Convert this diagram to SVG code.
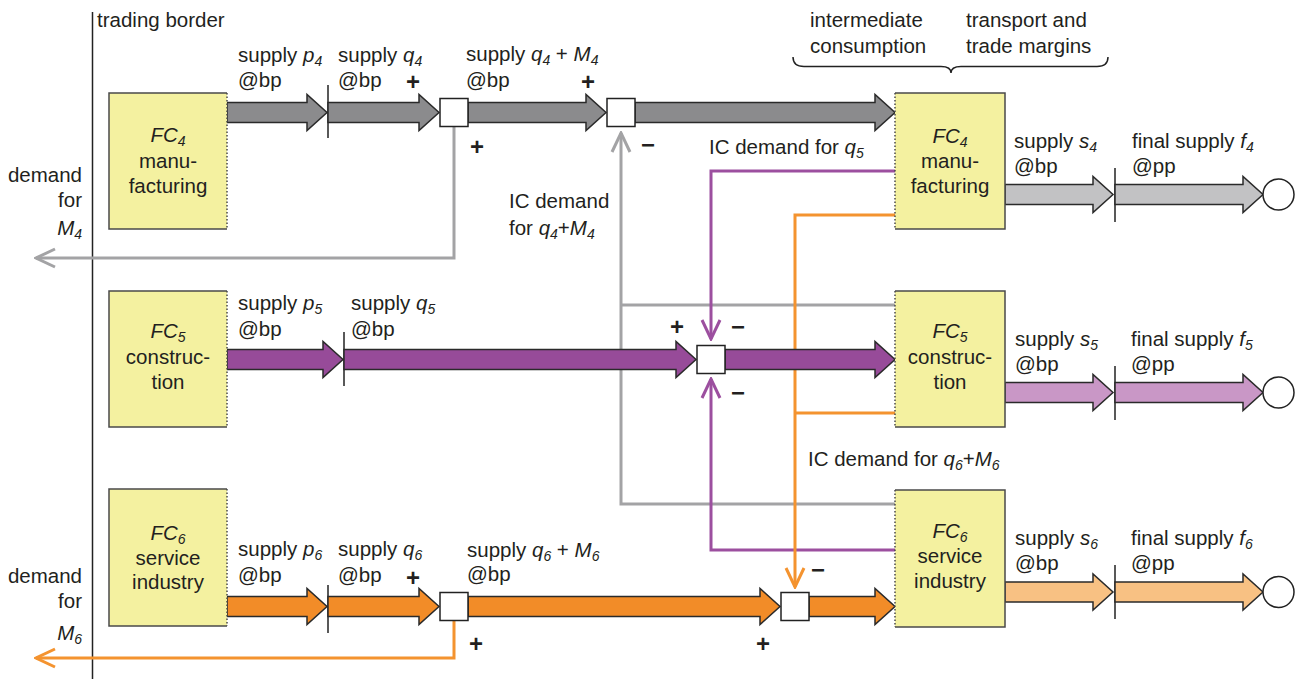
<svg xmlns="http://www.w3.org/2000/svg" width="1300" height="679" viewBox="0 0 1300 679">
<defs>
<style>
text{font-family:"Liberation Sans",Arial,Helvetica,sans-serif;font-size:20.5px;fill:#231f20}
.i{font-style:italic}
.s{font-size:14px;font-style:italic}
.m{text-anchor:middle}
.e{text-anchor:end}
.sign{font-size:24px;font-weight:bold;text-anchor:middle;dominant-baseline:central}
.box{fill:#f4f1a0}
.edge{fill:none;stroke:#4a4a4a;stroke-width:1.5}
.dot{fill:none;stroke:#4a4a4a;stroke-width:1.5;stroke-dasharray:1.5 2}
.ar{stroke:#2a2a2a;stroke-width:1.5;stroke-linejoin:miter}
.g1{fill:#8b8b8d}.g2{fill:#c2c2c4}.p1{fill:#974b99}.p2{fill:#c997c6}.o1{fill:#f28c28}.o2{fill:#f8c183}
.sum{fill:#fff;stroke:#222;stroke-width:1.5}
.tick{stroke:#222;stroke-width:1.5}
.ln{fill:none;stroke-width:3}
.lg{stroke:#a3a3a5}.lp{stroke:#9c4f9f}.lo{stroke:#f4932f}
</style>
<marker id="mg" viewBox="-24 -12 26 24" refX="0" refY="0" markerWidth="26" markerHeight="24" markerUnits="userSpaceOnUse" orient="auto"><path d="M-19,-9 L0,0 L-19,9" fill="none" stroke="#a3a3a5" stroke-width="3"/></marker>
<marker id="mp" viewBox="-24 -12 26 24" refX="0" refY="0" markerWidth="26" markerHeight="24" markerUnits="userSpaceOnUse" orient="auto"><path d="M-19,-9 L0,0 L-19,9" fill="none" stroke="#9c4f9f" stroke-width="3"/></marker>
<marker id="mo" viewBox="-24 -12 26 24" refX="0" refY="0" markerWidth="26" markerHeight="24" markerUnits="userSpaceOnUse" orient="auto"><path d="M-19,-9 L0,0 L-19,9" fill="none" stroke="#f4932f" stroke-width="3"/></marker>
</defs>
<rect width="1300" height="679" fill="#fff"/>

<g id="border">
<line x1="92.5" y1="12" x2="92.5" y2="679" stroke="#222" stroke-width="1.5"/>
<text x="97" y="27">trading border</text>
</g>

<g id="connectors">
<path class="ln lg" d="M454,127 V258 H36" marker-end="url(#mg)"/>
<path class="ln lg" d="M895,504 H621 V133" marker-end="url(#mg)"/>
<path class="ln lg" d="M895,305 H621"/>
<path class="ln lp" d="M895,171 H711 V339" marker-end="url(#mp)"/>
<path class="ln lp" d="M895,550 H711 V379" marker-end="url(#mp)"/>
<path class="ln lo" d="M895,215 H795 V587" marker-end="url(#mo)"/>
<path class="ln lo" d="M895,413 H795"/>
<path class="ln lo" d="M454,620 V658 H36" marker-end="url(#mo)"/>

<polygon class="ar g1" points="227,102.5 307,102.5 307,94.5 327,112.5 307,130.5 307,122.5 227,122.5"/>
<line class="tick" x1="328" y1="85" x2="328" y2="138"/>
<polygon class="ar g1" points="328,102.5 419,102.5 419,94.5 439,112.5 419,130.5 419,122.5 328,122.5"/>
<polygon class="ar g1" points="468,102.5 586,102.5 586,94.5 606,112.5 586,130.5 586,122.5 468,122.5"/>
<polygon class="ar g1" points="635,102.5 875,102.5 875,94.5 895,112.5 875,130.5 875,122.5 635,122.5"/>
<rect class="sum" x="440" y="98.5" width="28" height="28"/>
<rect class="sum" x="607" y="98.5" width="28" height="28"/>

<polygon class="ar p1" points="227,349.5 323,349.5 323,341.5 343,359.5 323,377.5 323,369.5 227,369.5"/>
<line class="tick" x1="344" y1="332" x2="344" y2="386"/>
<polygon class="ar p1" points="344,349.5 676,349.5 676,341.5 696,359.5 676,377.5 676,369.5 344,369.5"/>
<polygon class="ar p1" points="725,349.5 875,349.5 875,341.5 895,359.5 875,377.5 875,369.5 725,369.5"/>
<rect class="sum" x="697" y="345.5" width="28" height="28"/>

<polygon class="ar o1" points="227,596.5 307,596.5 307,588.5 327,606.5 307,624.5 307,616.5 227,616.5"/>
<line class="tick" x1="328" y1="585" x2="328" y2="633"/>
<polygon class="ar o1" points="328,596.5 419,596.5 419,588.5 439,606.5 419,624.5 419,616.5 328,616.5"/>
<polygon class="ar o1" points="468,596.5 760,596.5 760,588.5 780,606.5 760,624.5 760,616.5 468,616.5"/>
<polygon class="ar o1" points="809,596.5 875,596.5 875,588.5 895,606.5 875,624.5 875,616.5 809,616.5"/>
<rect class="sum" x="440" y="592.5" width="28" height="28"/>
<rect class="sum" x="781" y="592.5" width="28" height="28"/>

<polygon class="ar g2" points="1005,184.5 1093,184.5 1093,176.5 1113,194.5 1093,212.5 1093,204.5 1005,204.5"/>
<line class="tick" x1="1115" y1="168" x2="1115" y2="222"/>
<polygon class="ar g2" points="1115,184.5 1243,184.5 1243,176.5 1263,194.5 1243,212.5 1243,204.5 1115,204.5"/>
<circle class="sum" cx="1278.5" cy="194.5" r="15.5"/>

<polygon class="ar p2" points="1005,382.5 1093,382.5 1093,374.5 1113,392.5 1093,410.5 1093,402.5 1005,402.5"/>
<line class="tick" x1="1115" y1="366" x2="1115" y2="420"/>
<polygon class="ar p2" points="1115,382.5 1243,382.5 1243,374.5 1263,392.5 1243,410.5 1243,402.5 1115,402.5"/>
<circle class="sum" cx="1278.5" cy="392.5" r="15.5"/>

<polygon class="ar o2" points="1005,582 1093,582 1093,574 1113,592 1093,610 1093,602 1005,602"/>
<line class="tick" x1="1115" y1="565" x2="1115" y2="619"/>
<polygon class="ar o2" points="1115,582 1243,582 1243,574 1263,592 1243,610 1243,602 1115,602"/>
<circle class="sum" cx="1278.5" cy="592" r="15.5"/>

<text class="sign" x="413" y="81">+</text>
<text class="sign" x="477" y="146">+</text>
<text class="sign" x="588" y="81">+</text>
<text class="sign" x="648" y="144">−</text>
<text class="sign" x="677" y="326">+</text>
<text class="sign" x="738" y="326">−</text>
<text class="sign" x="738" y="392">−</text>
<text class="sign" x="413" y="577">+</text>
<text class="sign" x="476" y="643">+</text>
<text class="sign" x="763" y="643">+</text>
<text class="sign" x="818" y="569">−</text>

<text x="238" y="62">supply <tspan class="i">p</tspan><tspan class="s" dy="4">4</tspan></text>
<text x="238" y="87">@bp</text>
<text x="338" y="62">supply <tspan class="i">q</tspan><tspan class="s" dy="4">4</tspan></text>
<text x="338" y="87">@bp</text>
<text x="466" y="61">supply <tspan class="i">q</tspan><tspan class="s" dy="4">4</tspan><tspan dy="-4"> + </tspan><tspan class="i">M</tspan><tspan class="s" dy="4">4</tspan></text>
<text x="466" y="87">@bp</text>

<text x="238" y="310">supply <tspan class="i">p</tspan><tspan class="s" dy="4">5</tspan></text>
<text x="238" y="336">@bp</text>
<text x="351" y="310">supply <tspan class="i">q</tspan><tspan class="s" dy="4">5</tspan></text>
<text x="351" y="336">@bp</text>

<text x="238" y="556">supply <tspan class="i">p</tspan><tspan class="s" dy="4">6</tspan></text>
<text x="238" y="582">@bp</text>
<text x="338" y="556">supply <tspan class="i">q</tspan><tspan class="s" dy="4">6</tspan></text>
<text x="338" y="582">@bp</text>
<text x="467" y="557">supply <tspan class="i">q</tspan><tspan class="s" dy="4">6</tspan><tspan dy="-4"> + </tspan><tspan class="i">M</tspan><tspan class="s" dy="4">6</tspan></text>
<text x="467" y="581">@bp</text>

<text x="709" y="154">IC demand for <tspan class="i">q</tspan><tspan class="s" dy="4">5</tspan></text>
<text x="509" y="208">IC demand</text>
<text x="509" y="235">for <tspan class="i">q</tspan><tspan class="s" dy="4">4</tspan><tspan dy="-4">+</tspan><tspan class="i">M</tspan><tspan class="s" dy="4">4</tspan></text>
<text x="808" y="466">IC demand for <tspan class="i">q</tspan><tspan class="s" dy="4">6</tspan><tspan dy="-4">+</tspan><tspan class="i">M</tspan><tspan class="s" dy="4">6</tspan></text>

<text class="e" x="82" y="182">demand</text>
<text class="e" x="82" y="207">for</text>
<text class="e" x="82" y="235"><tspan class="i">M</tspan><tspan class="s" dy="4">4</tspan></text>
<text class="e" x="82" y="583">demand</text>
<text class="e" x="82" y="608">for</text>
<text class="e" x="82" y="640"><tspan class="i">M</tspan><tspan class="s" dy="4">6</tspan></text>

<text x="1014" y="148">supply <tspan class="i">s</tspan><tspan class="s" dy="4">4</tspan></text>
<text x="1014" y="173">@bp</text>
<text x="1132" y="148">final supply <tspan class="i">f</tspan><tspan class="s" dy="4">4</tspan></text>
<text x="1132" y="173">@pp</text>
<text x="1015" y="346">supply <tspan class="i">s</tspan><tspan class="s" dy="4">5</tspan></text>
<text x="1015" y="371">@bp</text>
<text x="1131" y="346">final supply <tspan class="i">f</tspan><tspan class="s" dy="4">5</tspan></text>
<text x="1131" y="371">@pp</text>
<text x="1015" y="545">supply <tspan class="i">s</tspan><tspan class="s" dy="4">6</tspan></text>
<text x="1015" y="570">@bp</text>
<text x="1131" y="545">final supply <tspan class="i">f</tspan><tspan class="s" dy="4">6</tspan></text>
<text x="1131" y="570">@pp</text>
</g>

<g id="header">
<text x="810" y="27">intermediate</text>
<text x="810" y="53">consumption</text>
<text x="966" y="27">transport and</text>
<text x="966" y="53">trade margins</text>
<path d="M793,57 Q793,66.5 804,66.5 L941,66.5 Q951,66.5 951,73 Q951,66.5 961,66.5 L1097,66.5 Q1108,66.5 1108,57" fill="none" stroke="#222" stroke-width="1.5"/>
</g>

<g id="fc4-left">
<rect class="box" x="109" y="93" width="118" height="136"/>
<path class="edge" d="M227,93 H109 V229 H227"/>
<line class="dot" x1="227" y1="93" x2="227" y2="229"/>
<text class="m" x="168" y="142"><tspan class="i">FC</tspan><tspan class="s" dy="4">4</tspan></text>
<text class="m" x="168" y="168">manu-</text>
<text class="m" x="168" y="193">facturing</text>
</g>
<g id="fc5-left">
<rect class="box" x="109" y="291" width="118" height="136"/>
<path class="edge" d="M227,291 H109 V427 H227"/>
<line class="dot" x1="227" y1="291" x2="227" y2="427"/>
<text class="m" x="168" y="338"><tspan class="i">FC</tspan><tspan class="s" dy="4">5</tspan></text>
<text class="m" x="168" y="364">construc-</text>
<text class="m" x="168" y="389">tion</text>
</g>
<g id="fc6-left">
<rect class="box" x="109" y="489" width="118" height="137"/>
<path class="edge" d="M227,489 H109 V626 H227"/>
<line class="dot" x1="227" y1="489" x2="227" y2="626"/>
<text class="m" x="168" y="540"><tspan class="i">FC</tspan><tspan class="s" dy="4">6</tspan></text>
<text class="m" x="168" y="565">service</text>
<text class="m" x="168" y="589">industry</text>
</g>

<g id="fc4-right">
<rect class="box" x="895" y="93" width="110" height="136"/>
<path class="edge" d="M895,93 H1005 V229 H895"/>
<line class="dot" x1="895" y1="93" x2="895" y2="229"/>
<text class="m" x="950" y="143"><tspan class="i">FC</tspan><tspan class="s" dy="4">4</tspan></text>
<text class="m" x="950" y="168">manu-</text>
<text class="m" x="950" y="193">facturing</text>
</g>
<g id="fc5-right">
<rect class="box" x="895" y="291" width="110" height="136"/>
<path class="edge" d="M895,291 H1005 V427 H895"/>
<line class="dot" x1="895" y1="291" x2="895" y2="427"/>
<text class="m" x="950" y="338"><tspan class="i">FC</tspan><tspan class="s" dy="4">5</tspan></text>
<text class="m" x="950" y="364">construc-</text>
<text class="m" x="950" y="389">tion</text>
</g>
<g id="fc6-right">
<rect class="box" x="895" y="490" width="110" height="137"/>
<path class="edge" d="M895,490 H1005 V627 H895"/>
<line class="dot" x1="895" y1="490" x2="895" y2="627"/>
<text class="m" x="950" y="538"><tspan class="i">FC</tspan><tspan class="s" dy="4">6</tspan></text>
<text class="m" x="950" y="563">service</text>
<text class="m" x="950" y="588">industry</text>
</g>
</svg>
